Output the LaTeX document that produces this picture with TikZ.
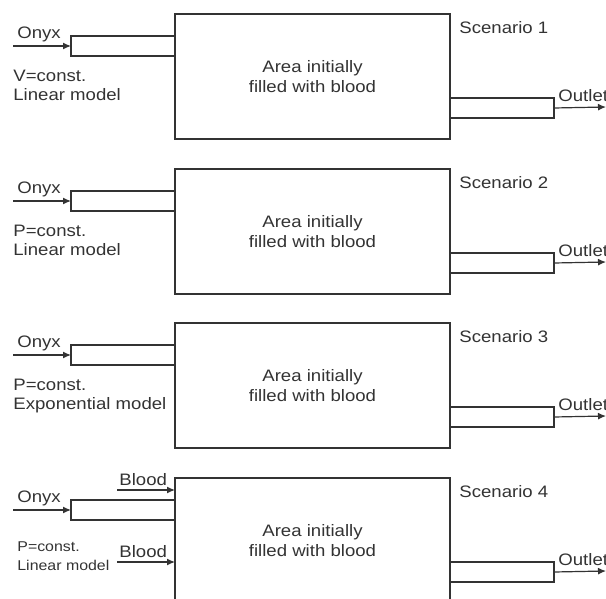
\documentclass[tikz,border=0pt]{standalone}
\usepackage{fontspec}
\setmainfont{Liberation Sans}[FakeStretch=1.12]
\usetikzlibrary{arrows.meta,positioning,calc}
\definecolor{ink}{HTML}{333333}
\tikzset{
  area/.style={rectangle, draw=ink, line width=0.9pt, minimum width=137.5pt, minimum height=62.5pt,
               inner sep=0pt, outer sep=0pt, align=center, text=ink, font=\fontsize{8.3}{10}\selectfont},
  tube/.style={rectangle, draw=ink, line width=0.9pt, minimum width=52pt, minimum height=10pt,
               inner sep=0pt, outer sep=0pt},
  lbl/.style={inner sep=1pt, align=left, text=ink, font=\fontsize{8.3}{9.5}\selectfont},
  smalllbl/.style={lbl, font=\fontsize{7.1}{9.5}\selectfont},
  feed/.style={-{Latex[length=4pt,width=3.5pt]}, draw=ink, line width=0.6pt}
}
\begin{document}
\begin{tikzpicture}[x=0.5pt, y=-0.5pt]
  \useasboundingbox (0,0) rectangle (606,599);
  \clip (0,0) rectangle (606,599);
  % one row per scenario
  \foreach \i/\y in {1/0, 2/155, 3/309, 4/464} {
    \node[area] (area\i) at (312.5, 76.5+\y) {Area initially\\filled with blood};
    \node[tube, anchor=north east] (in\i) at ([yshift=-11pt]area\i.north west) {};
    \node[tube, anchor=south west] (out\i) at ([yshift=10.5pt]area\i.south east) {};
    \coordinate (onyxsrc\i) at (13, 46+\y);
    \coordinate (sink\i) at (606, 107+\y);
    \draw[feed] (onyxsrc\i) -- (in\i.west);
    \draw[feed] (out\i.east) -- (sink\i);
    \node[lbl, above right=1pt and 1pt of onyxsrc\i] (onyx\i) {Onyx};
    \node[lbl, above right=2pt and 1pt of out\i.east] (outlet\i) {Outlet};
    \node[lbl, below right=2.5pt and 3.5pt of area\i.north east] (scen\i) {Scenario \i};
  }
  \node[lbl, anchor=north west] (model1) at (11,68) {V=const.\\Linear model};
  \node[lbl, anchor=north west] (model2) at (11,223) {P=const.\\Linear model};
  \node[lbl, anchor=north west] (model3) at (11,377) {P=const.\\Exponential model};
  \node[smalllbl, anchor=north west] (model4) at (15,539) {P=const.\\Linear model};
  % extra blood inflow in scenario 4
  \coordinate (bloodsrcA) at (117,490);
  \coordinate (bloodsrcB) at (117,562);
  \draw[feed] (bloodsrcA) -- (bloodsrcA -| area4.west);
  \draw[feed] (bloodsrcB) -- (bloodsrcB -| area4.west);
  \node[lbl, above right=1pt and 0pt of bloodsrcA] (bloodA) {Blood};
  \node[lbl, above right=1pt and 0pt of bloodsrcB] (bloodB) {Blood};
\end{tikzpicture}
\end{document}
